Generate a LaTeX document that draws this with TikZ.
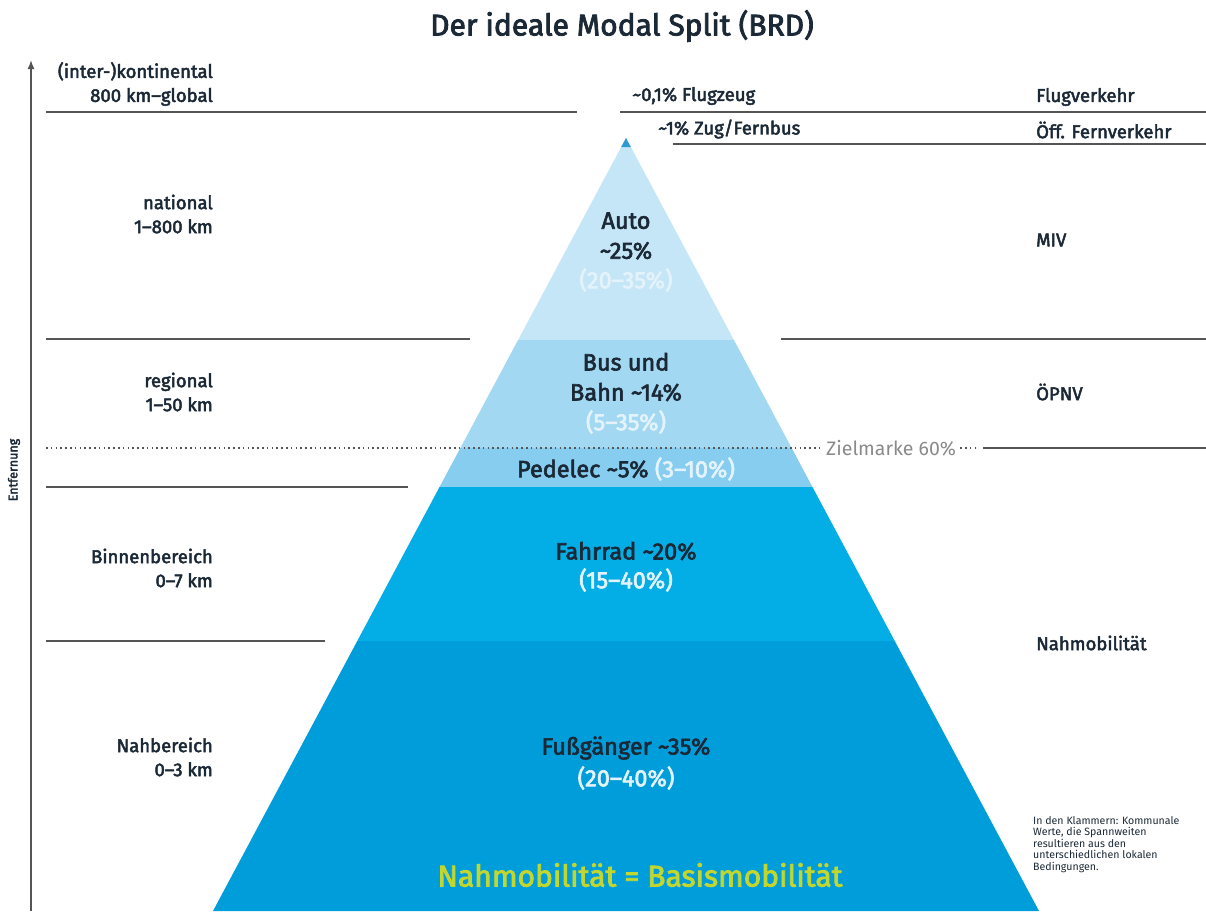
\documentclass[tikz,border=0pt]{standalone}
\usepackage{fontspec}
\setmainfont{Fira Sans}
\newfontfamily\medf[FakeBold=2.6]{Fira Sans}
\usetikzlibrary{arrows.meta}
\definecolor{cauto}{HTML}{C5E6F7}
\definecolor{cbus}{HTML}{A2D8F2}
\definecolor{cped}{HTML}{86CDEF}
\definecolor{crad}{HTML}{03ADE5}
\definecolor{cfuss}{HTML}{009DDB}
\definecolor{ctip}{HTML}{2E9BD0}
\definecolor{tdark}{HTML}{1B2836}
\definecolor{tpale}{HTML}{E4F3FB}
\definecolor{tyel}{HTML}{C3D62E}
\definecolor{lgray}{HTML}{555555}
\definecolor{zgray}{HTML}{8A8A8A}
\tikzset{
  sepline/.style={draw=lgray, line width=1.4pt},
  leftlab/.style={anchor=east, align=right, text=tdark, inner sep=0pt, font=\medf\fontsize{18.5}{24}\selectfont},
  rightlab/.style={anchor=west, align=left, text=tdark, inner sep=0pt, font=\medf\fontsize{18.5}{24}\selectfont},
  pyr/.style={align=center, inner sep=0pt, font=\medf\fontsize{23.5}{30}\selectfont},
}
\begin{document}
\begin{tikzpicture}[x=1pt,y=-1pt]
\useasboundingbox (0,0) rectangle (1206,911);
\fill[white] (0,0) rectangle (1206,911);
% pyramid geometry: apex (626,138), slope k
\def\k{0.5343}
\coordinate (apex) at (626,138);
\fill[cauto] (626,138) -- ({626-\k*202},340) -- ({626+\k*202},340) -- cycle;
\fill[cbus] ({626-\k*202},340) -- ({626-\k*310},448) -- ({626+\k*310},448) -- ({626+\k*202},340) -- cycle;
\fill[cped] ({626-\k*310},448) -- ({626-\k*349},487) -- ({626+\k*349},487) -- ({626+\k*310},448) -- cycle;
\fill[crad] ({626-\k*349},487) -- ({626-\k*503},641) -- ({626+\k*503},641) -- ({626+\k*349},487) -- cycle;
\fill[cfuss] ({626-\k*503},641) -- ({626-\k*773},911) -- ({626+\k*773},911) -- ({626+\k*503},641) -- cycle;
\fill[ctip] (626,138) -- ({626-\k*9},147) -- ({626+\k*9},147) -- cycle;
% title
\node[font=\medf\fontsize{30}{34}\selectfont, text=tdark] (title) at (622,26) {Der ideale Modal Split (BRD)};
% axis
\coordinate (axb) at (31,911);
\coordinate (axt) at (31,60);
\draw[draw=lgray, line width=1.6pt, -{Latex[length=9pt,width=7pt]}] (axb) -- (axt);
\node[rotate=90, text=tdark, font=\medf\fontsize{12.5}{14}\selectfont] (entf) at (14,470) {Entfernung};
% separator lines
\draw[sepline] (46,112) -- (577,112);
\draw[sepline] (620,112) -- (1206,112);
\draw[sepline] (673,144) -- (1206,144);
\draw[sepline] (46,339) -- (470,339);
\draw[sepline] (781,339) -- (1206,339);
\draw[sepline] (46,487) -- (408,487);
\draw[sepline] (46,641) -- (325,641);
\draw[draw=lgray, line width=1.5pt, dash pattern=on 1.5pt off 3.3pt] (46,448) -- (821,448);
\node[anchor=west, inner sep=0pt, text=zgray, font=\fontsize{19.5}{20}\selectfont] (ziel) at (826,448) {Zielmarke 60\%};
\draw[draw=lgray, line width=1.5pt, dash pattern=on 1.5pt off 3.3pt] (ziel.east) ++(4,0) -- ++(18,0) coordinate (zend);
\draw[sepline] (zend) ++(5,0) -- (1206,448);
% left labels
\node[leftlab] (l1) at (213,84) {(inter-)kontinental\\800 km–global};
\node[leftlab] (l2) at (213,214) {national\\1–800 km};
\node[leftlab] (l3) at (213,392) {regional\\1–50 km};
\node[leftlab] (l4) at (213,568) {Binnenbereich\\0–7 km};
\node[leftlab] (l5) at (213,757) {Nahbereich\\0–3 km};
% right labels
\node[rightlab] (r1) at (1036,97) {Flugverkehr};
\node[rightlab] (r2) at (1036,130) {Öff. Fernverkehr};
\node[rightlab] (r3) at (1036,240) {MIV};
\node[rightlab] (r4) at (1036,392) {ÖPNV};
\node[rightlab] (r5) at (1036,643) {Nahmobilität};
% top labels
\node[rightlab] (flug) at (632,96) {\textasciitilde 0,1\% Flugzeug};
\node[rightlab] (zug) at (658,129) {\textasciitilde 1\% Zug/Fernbus};
% pyramid texts
\node[pyr, text=tdark] (auto) at (626,236) {Auto\\\textasciitilde 25\%};
\node[pyr, text=tpale] (autor) at (626,280) {(20–35\%)};
\node[pyr, text=tdark] (bus) at (626,377) {Bus und\\Bahn \textasciitilde 14\%};
\node[pyr, text=tpale] (busr) at (626,422) {(5–35\%)};
\node[pyr, text=tdark] (ped) at (626,469) {Pedelec \textasciitilde 5\% \textcolor{tpale}{(3–10\%)}};
\node[pyr, text=tdark] (rad) at (626,551) {Fahrrad \textasciitilde 20\%};
\node[pyr, text=tpale] (radr) at (626,580) {(15–40\%)};
\node[pyr, text=tdark] (fuss) at (626,748) {Fußgänger \textasciitilde 35\%};
\node[pyr, text=tpale] (fussr) at (626,778) {(20–40\%)};
\node[pyr, text=tyel, font=\medf\fontsize{30}{36}\selectfont] (basis) at (640,875) {Nahmobilität = Basismobilität};
% footnote
\node[anchor=north west, align=left, inner sep=0pt, text=tdark, font=\fontsize{10.6}{11.6}\selectfont] (note) at (1033,816) {In den Klammern: Kommunale\\Werte, die Spannweiten\\resultieren aus den\\unterschiedlichen lokalen\\Bedingungen.};
\end{tikzpicture}
\end{document}
